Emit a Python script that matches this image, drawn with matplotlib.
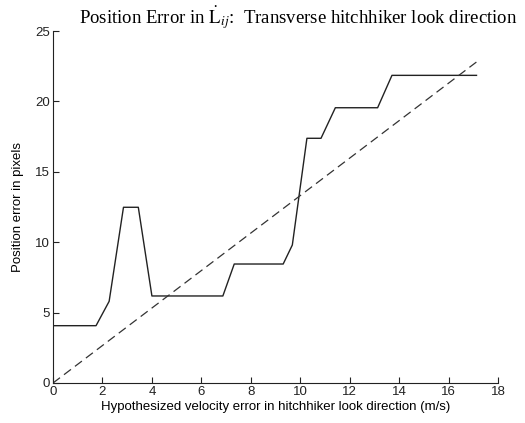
import matplotlib

matplotlib.use("Agg")
import matplotlib.pyplot as plt

# measured position error vs hypothesized velocity error
vel_err = [0, 1.74, 2.27, 2.85, 3.45, 4.0, 6.87, 7.33, 9.31, 9.68, 10.27,
           10.84, 11.42, 13.13, 13.71, 17.13]
pos_err = [4.07, 4.07, 5.8, 12.48, 12.48, 6.18, 6.18, 8.45, 8.45, 9.8, 17.38,
           17.38, 19.55, 19.55, 21.85, 21.85]

# reference (dashed) line
ref_x = [0, 17.13]
ref_y = [0, 22.8]

xticks = [0, 2, 4, 6, 8, 10, 12, 14, 16, 18]
yticks = [0, 5, 10, 15, 20, 25]

plt.rcParams["mathtext.fontset"] = "stix"

fig = plt.figure(figsize=(5.25, 4.23), dpi=100)
ax = fig.add_axes([0.101, 0.0946, 0.8476, 0.8321])

ax.plot(vel_err, pos_err, color="#222222", linewidth=1.0)
ax.plot(ref_x, ref_y, color="#333333", linewidth=0.9, linestyle=(0, (7, 4)))

ax.set_xlim(0, 18)
ax.set_ylim(0, 25)
ax.set_xticks(xticks)
ax.set_yticks(yticks)
ax.spines["top"].set_visible(False)
ax.spines["right"].set_visible(False)
for s in ("left", "bottom"):
    ax.spines[s].set_color("#222222")
    ax.spines[s].set_linewidth(0.8)
ax.tick_params(direction="in", length=4, width=0.8, labelsize=9.5, pad=2,
               colors="#222222")
for lab in ax.get_xticklabels() + ax.get_yticklabels():
    lab.set_family("Liberation Sans")

ax.set_xlabel("Hypothesized velocity error in hitchhiker look direction (m/s)",
              fontsize=9.5, family="Liberation Sans", labelpad=2)
ax.set_ylabel("Position error in pixels", fontsize=9.5, family="Liberation Sans",
              labelpad=8)

fig.text(0.568, 0.957,
         r"Position Error in $\mathrm{\dot{L}}_{ij}$:  Transverse hitchhiker look direction",
         ha="center", va="center", fontsize=13.5, family="Liberation Serif")

fig.savefig("out.png", dpi=100)
